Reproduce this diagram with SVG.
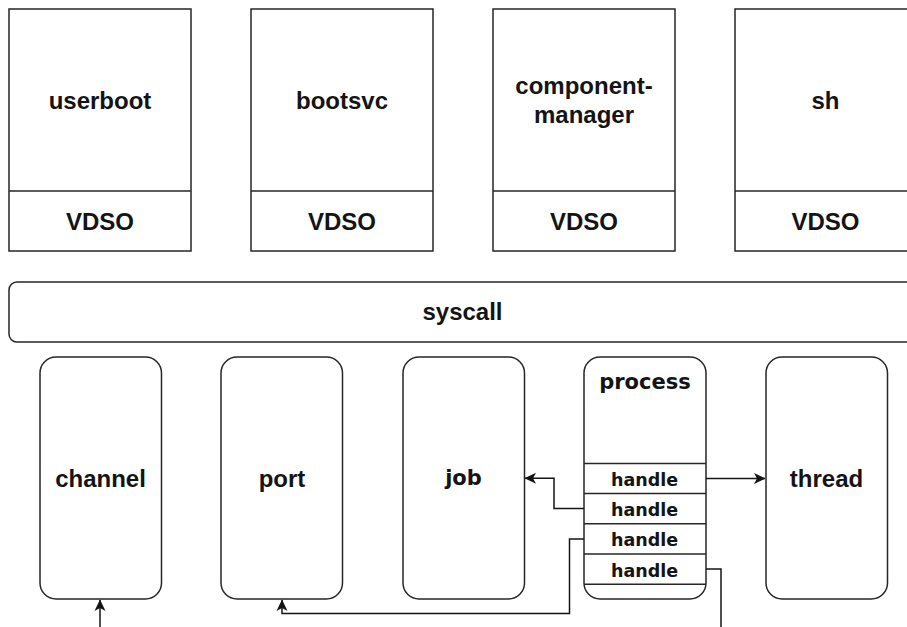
<svg xmlns="http://www.w3.org/2000/svg" width="907" height="627" viewBox="0 0 907 627">
  <defs>
    <style>
      .box { fill: #ffffff; stroke: #262626; stroke-width: 1.5; }
      .sep { fill: none; stroke: #262626; stroke-width: 1.5; }
      .lbl { font-family: "Liberation Sans", Arial, Helvetica, sans-serif; font-weight: bold; font-size: 24px; fill: #141414; text-anchor: middle; }
      .lbl2 { font-family: "DejaVu Sans", Verdana, sans-serif; font-weight: bold; font-size: 21px; fill: #141414; text-anchor: middle; }
      .hnd { font-family: "DejaVu Sans", Verdana, sans-serif; font-weight: bold; font-size: 17.5px; fill: #141414; text-anchor: middle; }
      .edge { fill: none; stroke: #141414; stroke-width: 1.5; }
    </style>
    <marker id="arrow" viewBox="0 0 12 12" refX="11" refY="6" markerWidth="12" markerHeight="12" markerUnits="userSpaceOnUse" orient="auto">
      <path d="M0,0.5 L11.5,6 L0,11.5 L3,6 Z" fill="#141414"/>
    </marker>
  </defs>

  <rect width="907" height="627" fill="#ffffff"/>

  <!-- user-space programs, each with its VDSO -->
  <g id="userboot">
    <rect class="box" x="9" y="9" width="182" height="242"/>
    <line class="sep" x1="9" y1="191" x2="191" y2="191"/>
    <text class="lbl" x="100" y="108.5">userboot</text>
    <text class="lbl" x="100" y="229.5">VDSO</text>
  </g>
  <g id="bootsvc">
    <rect class="box" x="251" y="9" width="182" height="242"/>
    <line class="sep" x1="251" y1="191" x2="433" y2="191"/>
    <text class="lbl" x="342" y="108.5">bootsvc</text>
    <text class="lbl" x="342" y="229.5">VDSO</text>
  </g>
  <g id="component-manager">
    <rect class="box" x="493" y="9" width="182" height="242"/>
    <line class="sep" x1="493" y1="191" x2="675" y2="191"/>
    <text class="lbl" x="584" y="94">component-</text>
    <text class="lbl" x="584" y="123">manager</text>
    <text class="lbl" x="584" y="229.5">VDSO</text>
  </g>
  <g id="sh">
    <rect class="box" x="735" y="9" width="182" height="242"/>
    <line class="sep" x1="735" y1="191" x2="917" y2="191"/>
    <text class="lbl" x="825.5" y="108.5">sh</text>
    <text class="lbl" x="825.5" y="229.5">VDSO</text>
  </g>

  <!-- system call layer -->
  <g id="syscall">
    <rect class="box" x="9" y="282" width="920" height="60" rx="8" ry="8"/>
    <text class="lbl" x="462.5" y="320">syscall</text>
  </g>

  <!-- kernel objects -->
  <g id="channel">
    <rect class="box" x="40" y="357" width="121.5" height="242" rx="16" ry="16"/>
    <text class="lbl" x="100.5" y="486.5">channel</text>
  </g>
  <g id="port">
    <rect class="box" x="221" y="357" width="121.5" height="242" rx="16" ry="16"/>
    <text class="lbl" x="282" y="486.5">port</text>
  </g>
  <g id="job">
    <rect class="box" x="403" y="357" width="121.5" height="242" rx="16" ry="16"/>
    <text class="lbl2" x="463.5" y="485">job</text>
  </g>
  <g id="process">
    <rect class="box" x="584" y="357" width="122" height="242" rx="16" ry="16"/>
    <text class="lbl2" x="645" y="388.5">process</text>
    <line class="sep" x1="584" y1="463.5" x2="706" y2="463.5"/>
    <line class="sep" x1="584" y1="493.5" x2="706" y2="493.5"/>
    <line class="sep" x1="584" y1="523.8" x2="706" y2="523.8"/>
    <line class="sep" x1="584" y1="554" x2="706" y2="554"/>
    <line class="sep" x1="584" y1="584.2" x2="706" y2="584.2"/>
    <text class="hnd" x="644.5" y="485.5">handle</text>
    <text class="hnd" x="644.5" y="515.5">handle</text>
    <text class="hnd" x="644.5" y="546">handle</text>
    <text class="hnd" x="644.5" y="576.5">handle</text>
  </g>
  <g id="thread">
    <rect class="box" x="766" y="357" width="121.5" height="242" rx="16" ry="16"/>
    <text class="lbl" x="826.5" y="486.5">thread</text>
  </g>

  <!-- handle references -->
  <g id="connectors">
    <path class="edge" d="M706,478.5 L765,478.5" marker-end="url(#arrow)"/>
    <path class="edge" d="M584,508.5 L554,508.5 L554,478.3 L525,478.3" marker-end="url(#arrow)"/>
    <path class="edge" d="M584,539 L569.5,539 L569.5,613.5 L282,613.5 L282,600" marker-end="url(#arrow)"/>
    <path class="edge" d="M706,569 L721,569 L721,627"/>
    <path class="edge" d="M100,627 L100,600" marker-end="url(#arrow)"/>
  </g>
</svg>
